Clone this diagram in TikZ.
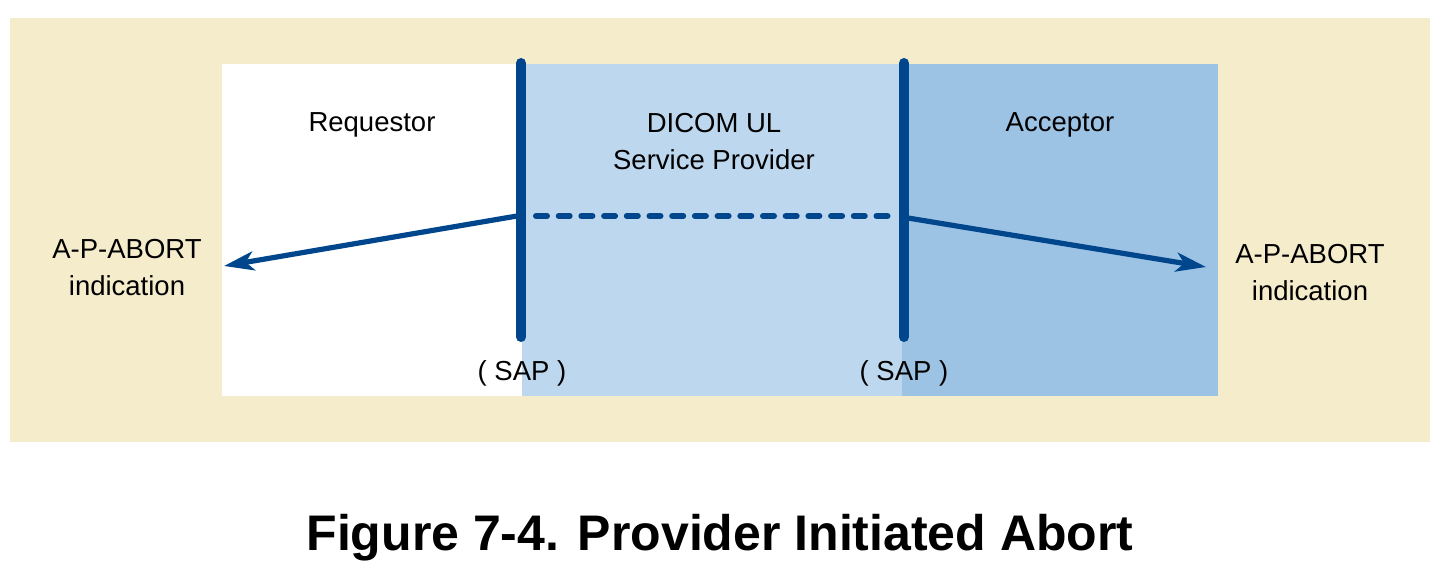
\documentclass[tikz,border=0pt]{standalone}
\usepackage{fontspec}
\setmainfont{Liberation Sans}
\usetikzlibrary{arrows.meta}
\definecolor{beige}{RGB}{245,236,204}
\definecolor{lightblue}{RGB}{189,215,238}
\definecolor{midblue}{RGB}{157,195,228}
\definecolor{navy}{RGB}{0,70,140}
\tikzset{
  lbl/.style={inner sep=0pt, align=center, font=\fontsize{13.75pt}{18.5pt}\selectfont, text=black},
  sapline/.style={draw=navy, line width=5pt, line cap=round},
  msg/.style={draw=navy, line width=2.6pt, -{Stealth[length=15pt,width=9.5pt,inset=4pt]}},
  provline/.style={draw=navy, line width=3pt, line cap=round, dash pattern=on 5.5pt off 5.85pt},
}
\begin{document}
\begin{tikzpicture}[x=0.5pt,y=-0.5pt]
\useasboundingbox (0,0) rectangle (1442,568);
\fill[white] (0,0) rectangle (1442,568);
% panels
\fill[beige] (10,18) rectangle (1430,442);
\fill[white] (222,64) rectangle (522,396);
\fill[lightblue] (522,64) rectangle (902,396);
\fill[midblue] (902,64) rectangle (1218,396);
% labels
\node[lbl] (req) at (372,125) {Requestor};
\node[lbl] (prov) at (714,142) {DICOM UL\\Service Provider};
\node[lbl] (acc) at (1060,125) {Acceptor};
\node[lbl] (lind) at (127,268) {A-P-ABORT\\indication};
\node[lbl] (rind) at (1310,273) {A-P-ABORT\\indication};
\node[lbl] (lsap) at (522,373) {( SAP )};
\node[lbl] (rsap) at (904,373) {( SAP )};
% SAP lines
\coordinate (ltop) at (521,63);
\coordinate (lbot) at (521,337);
\coordinate (rtop) at (904,63);
\coordinate (rbot) at (904,337);
\draw[sapline] (ltop) -- (lbot);
\draw[sapline] (rtop) -- (rbot);
% connectors
\coordinate (lstart) at (517,216);
\coordinate (ltip) at (224,266);
\coordinate (rstart) at (908,218);
\coordinate (rtip) at (1206,267);
\coordinate (dstart) at (536,216);
\coordinate (dend) at (892,216);
\draw[provline] (dstart) -- (dend);
\draw[msg] (lstart) -- (ltip);
\draw[msg] (rstart) -- (rtip);
% title
\node[inner sep=0pt, font=\fontsize{25pt}{30pt}\selectfont\bfseries] (title) at (720,538) {Figure 7-4. Provider Initiated Abort};
\end{tikzpicture}
\end{document}
